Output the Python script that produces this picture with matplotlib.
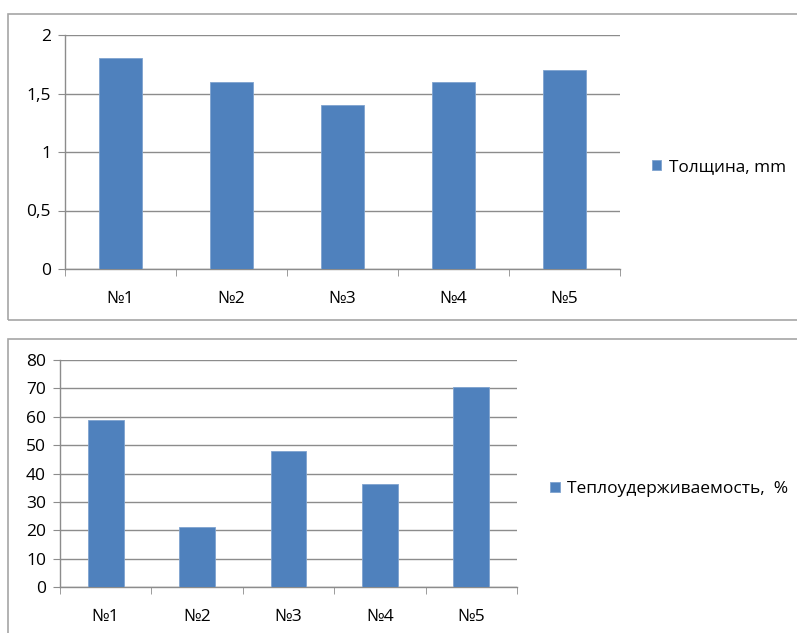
import matplotlib
matplotlib.use('Agg')
import matplotlib.pyplot as plt
from matplotlib.patches import Rectangle

# ---------------------------------------------------------------------
# data

categories = ['№1', '№2', '№3', '№4', '№5']

thickness = [1.8, 1.6, 1.4, 1.6, 1.7]
thickness_label = 'Толщина, mm'
thickness_ticks = [0, 0.5, 1, 1.5, 2]
thickness_tick_labels = ['0', '0,5', '1', '1,5', '2']

heat = [58.8, 21.0, 47.9, 36.2, 70.5]
heat_label = 'Теплоудерживаемость,  %'
heat_ticks = [0, 10, 20, 30, 40, 50, 60, 70, 80]
heat_tick_labels = ['0', '10', '20', '30', '40', '50', '60', '70', '80']

# ---------------------------------------------------------------------

BAR_COLOR = '#4F81BD'
GRID_COLOR = '#8C8C8C'
W, H = 797, 633

plt.rcParams['font.family'] = ['Open Sans', 'DejaVu Sans']

fig = plt.figure(figsize=(W / 100, H / 100), dpi=100)


def px_box(x0, y0, x1, y1):
    # pixel box (top-left origin) -> figure fraction rect
    return [x0 / W, 1 - y1 / H, (x1 - x0) / W, (y1 - y0) / H]


def frame(x0, y0, x1, y1):
    r = Rectangle((x0 / W, 1 - y1 / H), (x1 - x0) / W, (y1 - y0) / H,
                  transform=fig.transFigure, fill=False,
                  edgecolor='#A6A6A6', linewidth=1.2)
    fig.patches.append(r)


def bar_chart(ax, values, ticks, tick_labels, label, legend_x, legend_y,
              legend_size):
    xs = [i + 0.5 for i in range(len(values))]
    bars = ax.bar(xs, values, width=0.39, color=BAR_COLOR,
                  edgecolor='#7FA3CF', linewidth=0.6, label=label, zorder=3)

    ax.set_xlim(0, len(values))
    ax.set_ylim(ticks[0], ticks[-1])

    ax.set_xticks(xs)
    ax.set_xticklabels(categories, fontsize=12.5)
    ax.set_xticks(range(len(values) + 1), minor=True)
    ax.tick_params(axis='x', which='major', length=0, pad=16)
    ax.tick_params(axis='x', which='minor', length=5, color=GRID_COLOR,
                   direction='out')

    ax.set_yticks(ticks)
    ax.set_yticklabels(tick_labels, fontsize=12.5)
    ax.tick_params(axis='y', length=5, color=GRID_COLOR, pad=5)

    ax.grid(axis='y', color=GRID_COLOR, linewidth=1.0, zorder=0)
    ax.set_axisbelow(True)

    for side in ['top', 'right']:
        ax.spines[side].set_visible(False)
    for side in ['left', 'bottom']:
        ax.spines[side].set_color(GRID_COLOR)
        ax.spines[side].set_linewidth(1.0)

    fig.legend(handles=[bars], labels=[label], loc='center left',
               bbox_to_anchor=(legend_x / W, 1 - legend_y / H),
               frameon=False, fontsize=legend_size, handlelength=0.55,
               handleheight=0.55, handletextpad=0.45, borderaxespad=0,
               borderpad=0)


# top chart
frame(8, 14, 805, 320)
ax1 = fig.add_axes(px_box(65, 35, 620, 269))
bar_chart(ax1, thickness, thickness_ticks, thickness_tick_labels,
          thickness_label, 652, 167, 12.3)

# bottom chart
frame(8, 339, 805, 645)
ax2 = fig.add_axes(px_box(60, 360, 517, 587))
bar_chart(ax2, heat, heat_ticks, heat_tick_labels,
          heat_label, 550, 489, 12.5)

fig.savefig('out.png', dpi=100)
